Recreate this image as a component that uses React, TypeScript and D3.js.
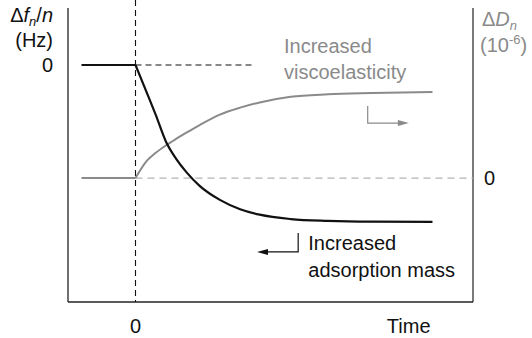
import * as d3 from 'd3';

// time axis (arbitrary units, 0 = start of adsorption)
const TIME = [-0.8, 0, 0.17, 0.3, 0.45, 0.6, 0.76, 0.95, 1.25, 1.55, 1.84, 2.3, 2.85, 3.5, 4.4];
// frequency shift Δf_n/n (normalised, 0 → -1)
const FREQ = [0, 0, -0.18, -0.32, -0.49, -0.6, -0.69, -0.775, -0.865, -0.925, -0.96, -0.988, -1.0, -1.005, -1.006];
// dissipation shift ΔD_n (normalised, 0 → 1)
const DISS = [0, 0, 0.2, 0.29, 0.375, 0.45, 0.525, 0.61, 0.73, 0.81, 0.87, 0.935, 0.963, 0.977, 0.989];

const TIME_TICKS = [{ t: 0, label: '0' }, { t: 4.4, label: 'Time' }];

const W = 532;
const H = 338;
const FONT = '"Liberation Sans", Arial, Helvetica, sans-serif';
const GRAY = '#8a8a8a';
const FS = 20;

export default function App() {
  const x = d3.scaleLinear().domain([-1, 5]).range([68, 473]);
  const yF = d3.scaleLinear().domain([-1.52, 0.385]).range([302, 5]);
  const yD = d3.scaleLinear().domain([-1.425, 1.99]).range([302, 5]);

  // flat part before t=0 is straight, the response after t=0 is smoothed
  const pre = d3.line<number>().x((_, i) => x(TIME[i])).y(d => d);
  const post = d3.line<number>().x((_, i) => x(TIME[i + 1])).y(d => d).curve(d3.curveMonotoneX);

  const freqPath = (pre(FREQ.slice(0, 2).map(v => yF(v))) || '') + (post(FREQ.slice(1).map(v => yF(v))) || '');
  const dissPath = (pre(DISS.slice(0, 2).map(v => yD(v))) || '') + (post(DISS.slice(1).map(v => yD(v))) || '');

  const x0 = x(0);
  const top = 8;
  const bottom = 302;

  // annotation arrows (data coords)
  const ba = { x1: x(2.41), x2: x(1.8), y1: yF(-1.077), y2: yF(-1.199) };
  const ga = { x1: x(3.44), x2: x(4.05), y1: yD(0.828), y2: yD(0.632) };

  return (
    <svg width={W} height={H} style={{ position: 'absolute', left: 0, top: 0, background: '#fff' }} fontFamily={FONT}>
      {/* axes frame */}
      <line x1={68} x2={68} y1={top} y2={bottom} stroke="#222" strokeWidth={1.3} />
      <line x1={473} x2={473} y1={top} y2={bottom} stroke="#333" strokeWidth={1.3} />
      <line x1={68} x2={473} y1={bottom} y2={bottom} stroke="#222" strokeWidth={1.3} />

      {/* reference dashed lines */}
      <line x1={x0} x2={x0} y1={0} y2={bottom} stroke="#111" strokeWidth={1.1} strokeDasharray="6,4" />
      <line x1={x0} x2={x(1.73)} y1={yF(0)} y2={yF(0)} stroke="#111" strokeWidth={1.1} strokeDasharray="6,4" />
      <line x1={x0} x2={473} y1={yD(0)} y2={yD(0)} stroke="#b4b4b4" strokeWidth={1.3} strokeDasharray="7,5" />

      {/* curves */}
      <path d={dissPath} fill="none" stroke={GRAY} strokeWidth={2} />
      <path d={freqPath} fill="none" stroke="#111" strokeWidth={2.2} />

      {/* black annotation arrow */}
      <polyline points={`${ba.x1},${ba.y1} ${ba.x1},${ba.y2} ${ba.x2 + 8},${ba.y2}`} fill="none" stroke="#111" strokeWidth={1.2} />
      <path d={`M${ba.x2},${ba.y2} L${ba.x2 + 11},${ba.y2 - 3} L${ba.x2 + 11},${ba.y2 + 3} Z`} fill="#111" />
      <text x={x(2.56)} y={250} fontSize={FS} fill="#111">Increased</text>
      <text x={x(2.56)} y={277} fontSize={FS} fill="#111">adsorption mass</text>

      {/* gray annotation arrow */}
      <polyline points={`${ga.x1},${ga.y1} ${ga.x1},${ga.y2} ${ga.x2 - 8},${ga.y2}`} fill="none" stroke={GRAY} strokeWidth={1.2} />
      <path d={`M${ga.x2},${ga.y2} L${ga.x2 - 11},${ga.y2 - 3} L${ga.x2 - 11},${ga.y2 + 3} Z`} fill={GRAY} />
      <text x={x(2.2)} y={53} fontSize={FS} fill={GRAY}>Increased</text>
      <text x={x(2.2)} y={79} fontSize={FS} fill={GRAY}>viscoelasticity</text>

      {/* left axis labels */}
      <text x={53} y={22} fontSize={FS} textAnchor="end" fill="#111">
        Δ<tspan fontStyle="italic">f</tspan>
        <tspan fontStyle="italic" fontSize={13} dy={4}>n</tspan>
        <tspan dy={-4}>/</tspan><tspan fontStyle="italic">n</tspan>
      </text>
      <text x={53} y={47} fontSize={FS} textAnchor="end" fill="#111">(Hz)</text>
      <text x={53} y={yF(0)} dy="0.35em" fontSize={FS} textAnchor="end" fill="#111">0</text>

      {/* right axis labels */}
      <text x={482} y={26} fontSize={FS} fill={GRAY}>
        Δ<tspan fontStyle="italic">D</tspan>
        <tspan fontStyle="italic" fontSize={13} dy={4}>n</tspan>
      </text>
      <text x={480} y={52} fontSize={FS} fill={GRAY}>
        (10<tspan fontSize={13} dy={-8}>-6</tspan><tspan dy={8}>)</tspan>
      </text>
      <text x={484} y={yD(0)} dy="0.35em" fontSize={FS} fill="#111">0</text>

      {/* time axis labels */}
      {TIME_TICKS.map(d => (
        <text key={d.label} x={x(d.t)} y={333} fontSize={FS} textAnchor={d.t === 0 ? 'middle' : 'end'} fill="#111"
          dx={d.t === 0 ? 0 : -2}>
          {d.label}
        </text>
      ))}
    </svg>
  );
}
